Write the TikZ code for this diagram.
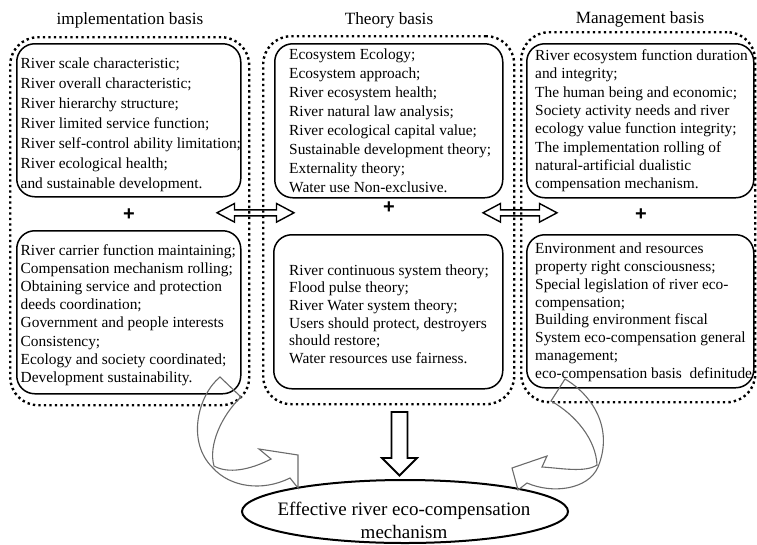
\documentclass[tikz,border=0pt]{standalone}
\usepackage{fontspec}
\setmainfont{Liberation Serif}
\newfontfamily\plusfont{Liberation Sans}
\usetikzlibrary{shapes.geometric}
\begin{document}
\begin{tikzpicture}[x=1pt,y=-1pt,
  dotbox/.style={draw, line width=2.4pt, dash pattern=on 2.4pt off 3.1pt,
                 rounded corners=28pt, anchor=north west, inner sep=0pt},
  solidbox/.style={draw, line width=1.5pt, rounded corners=18pt,
                   anchor=north west, inner sep=0pt},
  boxtext/.style={anchor=north west, align=left, inner sep=0pt},
  coltitle/.style={anchor=base, inner sep=0pt, font=\fontsize{17.2}{20}\selectfont},
  plussign/.style={inner sep=0pt, font=\plusfont\bfseries\fontsize{20}{20}\selectfont},
  blockarrow/.style={draw, line width=1.4pt, line join=miter},
  curvedarrow/.style={draw=black!58, line width=1.1pt, line join=miter}
]
\useasboundingbox (0,0) rectangle (757,544);

% column titles
\node[coltitle] (t1) at (130,24) {implementation basis};
\node[coltitle] (t2) at (389,24.5) {Theory basis};
\node[coltitle] (t3) at (640,23) {Management basis};

% dotted column frames
\node[dotbox, minimum width=239, minimum height=368] (ld) at (9,36) {};
\node[dotbox, minimum width=251, minimum height=368] (md) at (262,35) {};
\node[dotbox, minimum width=234, minimum height=370] (rd) at (520,31) {};

% solid content boxes
\node[solidbox, minimum width=224, minimum height=153] (lt) at (16,43) {};
\node[solidbox, minimum width=224, minimum height=163] (lb) at (16,230) {};
\node[solidbox, minimum width=228, minimum height=154] (mt) at (274,43) {};
\node[solidbox, minimum width=229, minimum height=154] (mb) at (273,234) {};
\node[solidbox, minimum width=227, minimum height=154] (rt) at (526,43) {};
\node[solidbox, minimum width=227, minimum height=153] (rb) at (526,234) {};

% box texts
\node[boxtext, font=\fontsize{15.4}{20}\selectfont] (ltt) at (20.5,57.5) {River scale characteristic;\\
River overall characteristic;\\
River hierarchy structure;\\
River limited service function;\\
River self-control ability limitation;\\
River ecological health;\\
and sustainable development.};

\node[boxtext, font=\fontsize{15.4}{18.9}\selectfont] (mtt) at (289,49) {Ecosystem Ecology;\\
Ecosystem approach;\\
River ecosystem health;\\
River natural law analysis;\\
River ecological capital value;\\
Sustainable development theory;\\
Externality theory;\\
Water use Non-exclusive.};

\node[boxtext, font=\fontsize{15.4}{18.3}\selectfont] (rtt) at (535,49.5) {River ecosystem function duration\\
and integrity;\\
The human being and economic;\\
Society activity needs and river\\
ecology value function integrity;\\
The implementation rolling of\\
natural-artificial dualistic\\
compensation mechanism.};

\node[boxtext, font=\fontsize{15.4}{18.1}\selectfont] (lbt) at (20.5,244.5) {River carrier function maintaining;\\
Compensation mechanism rolling;\\
Obtaining service and protection\\
deeds coordination;\\
Government and people interests\\
Consistency;\\
Ecology and society coordinated;\\
Development sustainability.};

\node[boxtext, font=\fontsize{15.4}{17.6}\selectfont] (mbt) at (289,264.5) {River continuous system theory;\\
Flood pulse theory;\\
River Water system theory;\\
Users should protect, destroyers\\
should restore;\\
Water resources use fairness.};

\node[boxtext, font=\fontsize{15.4}{17.9}\selectfont] (rbt) at (535,242.5) {Environment and resources\\
property right consciousness;\\
Special legislation of river eco-\\
compensation;\\
Building environment fiscal\\
System eco-compensation general\\
management;\\
eco-compensation basis~ definitude};

% plus signs
\node[plussign] (p1) at (129,215) {+};
\node[plussign] (p2) at (389,208) {+};
\node[plussign] (p3) at (641,215) {+};

% two-headed block arrows between the columns
\coordinate (la) at (217,212.8);
\coordinate (ra) at (483,212.8);
\draw[blockarrow] (la) -- ++(17.5,-9.3) -- ++(0,6.3) -- ++(42,0) -- ++(0,-6.3)
  -- ++(17.5,9.3) -- ++(-17.5,9.3) -- ++(0,-6.3) -- ++(-42,0) -- ++(0,6.3) -- cycle;
\draw[blockarrow] (ra) -- ++(17.5,-9.3) -- ++(0,6.3) -- ++(39,0) -- ++(0,-6.3)
  -- ++(17.5,9.3) -- ++(-17.5,9.3) -- ++(0,-6.3) -- ++(-39,0) -- ++(0,6.3) -- cycle;

% goal ellipse
\node[draw, ellipse, line width=2pt, minimum width=326, minimum height=63, inner sep=0pt] (goal) at (405,511.5) {};
\node[anchor=north, align=center, inner sep=0pt, font=\fontsize{19}{23}\selectfont] (goaltxt) at (404,502) {Effective river eco-compensation\\mechanism};

% downward block arrow from the theory column
\coordinate (da) at (399.5,412);
\draw[blockarrow, line width=1.8pt] (da) -- ++(8,0) -- ++(0,46) -- ++(9.5,0) -- ++(-17.5,17.5)
  -- ++(-17.5,-17.5) -- ++(9.5,0) -- ++(0,-46) -- cycle;

% curved arrow on the left
\coordinate (L1) at (220,377);
\coordinate (L2) at (241,397);
\coordinate (LE) at (290,478);
\coordinate (LC) at (298,488);
\coordinate (LB) at (298,455);
\coordinate (LA) at (259,449);
\coordinate (LN) at (271,459);
\draw[curvedarrow] (L1) .. controls (198,395) and (186,442) .. (213,468)
  .. controls (230,487) and (262,492) .. (LE) -- (LC) -- (LB) -- (LA) -- (LN)
  .. controls (250,470) and (228,474) .. (214,466)
  .. controls (208,445) and (222,415) .. (L2) -- cycle;

% curved arrow on the right
\coordinate (R1) at (565,379);
\coordinate (R2) at (551,401);
\coordinate (RE) at (527,483);
\coordinate (RC) at (518,490);
\coordinate (RB) at (512,468);
\coordinate (RA) at (547,456);
\coordinate (RN) at (542,467);
\draw[curvedarrow] (R1) .. controls (592,395) and (614,428) .. (598,467)
  .. controls (588,490) and (552,494) .. (RE) -- (RC) -- (RB) -- (RA) -- (RN)
  .. controls (560,468) and (585,473) .. (597,465)
  .. controls (596,440) and (576,415) .. (R2) -- cycle;
\end{tikzpicture}
\end{document}
